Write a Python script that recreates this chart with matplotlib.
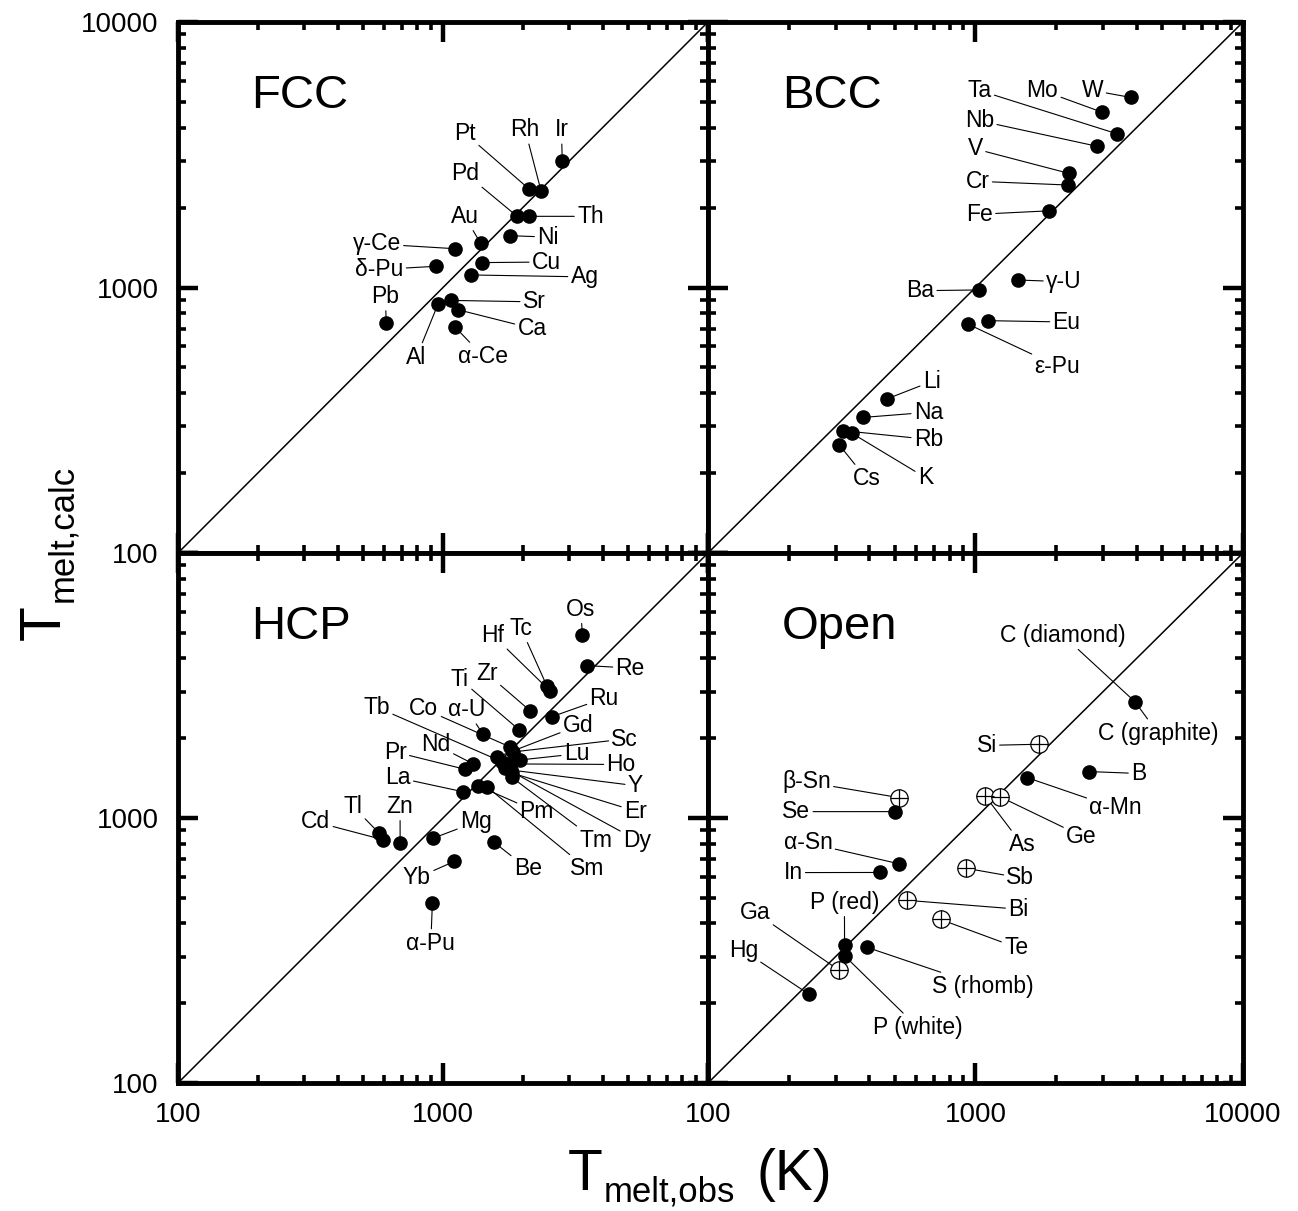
import matplotlib
matplotlib.use('Agg')
import matplotlib.pyplot as plt
from matplotlib import font_manager as fm
from matplotlib.ticker import FixedLocator, FuncFormatter, NullFormatter

FONT = 'Liberation Sans'
avail = {f.name for f in fm.fontManager.ttflist}
NARROW = 'Liberation Sans Narrow' if 'Liberation Sans Narrow' in avail else FONT
SUBSIZE = 31 if NARROW != FONT else 25
plt.rcParams['font.family'] = [FONT, 'DejaVu Sans']

# ---------------- data: FCC ----------------
fcc_names = ['Pt', 'Rh', 'Ir', 'Pd', 'Th', 'Ni', 'Au', 'γ-Ce', 'δ-Pu', 'Cu', 'Ag',
             'Pb', 'Sr', 'Ca', 'Al', 'α-Ce']
fcc_obs = [2118, 2344, 2818, 1905, 2118, 1792, 1387, 1109, 944, 1409, 1273,
           611, 1076, 1143, 958, 1109]
fcc_calc = [2344, 2312, 3006, 1854, 1854, 1567, 1466, 1400, 1202, 1241, 1115,
            736, 894, 824, 867, 711]
fcc_lab_x = [0.542, 0.655, 0.7235, 0.542, 0.778, 0.698, 0.541, 0.375, 0.380, 0.695, 0.767,
             0.391, 0.672, 0.668, 0.450, 0.576]
fcc_lab_y = [0.790, 0.797, 0.797, 0.715, 0.634, 0.595, 0.634, 0.582, 0.534, 0.548, 0.520,
             0.483, 0.473, 0.423, 0.369, 0.370]

# ---------------- data: BCC ----------------
bcc_names = ['W', 'Mo', 'Ta', 'Nb', 'V', 'Cr', 'Fe', 'Ba', 'γ-U', 'Eu', 'ε-Pu',
             'Li', 'Na', 'Rb', 'K', 'Cs']
bcc_obs = [3800, 2979, 3394, 2845, 2239, 2218, 1875, 1029, 1439, 1117, 937,
           465, 379, 319, 344, 309]
bcc_calc = [5200, 4571, 3788, 3404, 2689, 2432, 1944, 979, 1067, 750, 728,
            380, 324, 289, 283, 256]
bcc_lab_x = [0.719, 0.625, 0.5076, 0.5076, 0.4997, 0.504, 0.5076, 0.3966, 0.665, 0.670, 0.653,
             0.418, 0.412, 0.412, 0.4065, 0.296]
bcc_lab_y = [0.871, 0.871, 0.871, 0.814, 0.761, 0.700, 0.638, 0.494, 0.511, 0.435, 0.352,
             0.323, 0.265, 0.214, 0.142, 0.140]

# ---------------- data: HCP ----------------
hcp_names = ['Os', 'Re', 'Tc', 'Hf', 'Zr', 'Ru', 'Ti', 'α-U', 'Co', 'Gd', 'Tb', 'Sc',
             'Lu', 'Ho', 'Dy', 'Y', 'Er', 'Tm', 'Nd', 'Pr', 'La', 'Pm', 'Sm',
             'Tl', 'Cd', 'Zn', 'Mg', 'Be', 'Yb', 'α-Pu']
hcp_obs = [3357, 3494, 2467, 2535, 2130, 2570, 1941, 1413, 1790, 1600, 1665, 1836,
           1953, 1758, 1714, 1806, 1820, 1816, 1301, 1211, 1192, 1359, 1462,
           572, 594, 689, 916, 1556, 1104, 912]
hcp_calc = [4898, 3758, 3148, 3016, 2541, 2410, 2148, 2075, 1854, 1698, 1632, 1775,
            1656, 1600, 1544, 1517, 1479, 1425, 1600, 1527, 1256, 1321, 1313,
            880, 828, 808, 838, 811, 686, 479]
hcp_lab_x = [0.760, 0.853, 0.647, 0.594, 0.583, 0.804, 0.532, 0.545, 0.464, 0.755, 0.375, 0.843,
             0.752, 0.836, 0.866, 0.863, 0.863, 0.788, 0.487, 0.410, 0.415, 0.677, 0.772,
             0.330, 0.260, 0.419, 0.562, 0.660, 0.451, 0.477]
hcp_lab_y = [0.894, 0.783, 0.858, 0.845, 0.7725, 0.726, 0.762, 0.7045, 0.706, 0.674, 0.709, 0.649,
             0.621, 0.601, 0.458, 0.561, 0.513, 0.458, 0.638, 0.6245, 0.576, 0.512, 0.404,
             0.522, 0.4925, 0.522, 0.4925, 0.404, 0.387, 0.264]

# ---------------- data: Open ----------------
open_names = ['C (graphite)', 'Si', 'B', 'α-Mn', 'As', 'Ge', 'β-Sn', 'Se', 'α-Sn', 'In',
              'Sb', 'Bi', 'Te', 'P (red)', 'P (white)', 'S (rhomb)', 'Ga', 'Hg']
open_obs = [3951, 1726, 2661, 1563, 1085, 1230, 517, 499, 517, 439,
            923, 555, 741, 324, 324, 393, 308, 239]
open_calc = [2742, 1898, 1497, 1419, 1215, 1205, 1194, 1057, 672, 623,
             646, 489, 414, 332, 302, 325, 267, 216]
open_kind = ['dot', 'cross', 'dot', 'dot', 'cross', 'cross', 'cross', 'dot', 'dot', 'dot',
             'cross', 'cross', 'cross', 'dot', 'dot', 'dot', 'cross', 'dot']
open_lab_x = [0.841, 0.521, 0.805, 0.762, 0.587, 0.698, 0.184, 0.165, 0.187, 0.159,
              0.584, 0.580, 0.576, 0.255, 0.392, 0.514, 0.088, 0.066]
open_lab_y = [0.660, 0.637, 0.584, 0.519, 0.450, 0.466, 0.568, 0.512, 0.453, 0.397,
              0.387, 0.328, 0.256, 0.341, 0.105, 0.182, 0.322, 0.250]
# extra label pointing at an existing point: (text, point index, x, y)
open_extra = [('C (diamond)', 0, 0.663, 0.845)]

panel_titles = ['FCC', 'BCC', 'HCP', 'Open']
ticks_major = [100, 1000, 10000]
ticks_minor = [v * m for v in (100, 1000) for m in range(2, 10)]

W, H = 1298, 1211
fig = plt.figure(figsize=(W / 100, H / 100), dpi=100)
ax_fcc = fig.add_axes([178 / W, 1 - 553 / H, 530 / W, 531 / H])
ax_bcc = fig.add_axes([708 / W, 1 - 553 / H, 535 / W, 531 / H])
ax_hcp = fig.add_axes([178 / W, 1 - 1083 / H, 530 / W, 530 / H])
ax_open = fig.add_axes([708 / W, 1 - 1083 / H, 535 / W, 530 / H])
axes = [ax_fcc, ax_bcc, ax_hcp, ax_open]

LABEL_FS = 16.5


def make_fmt(hide):
    def f(v, pos):
        iv = int(round(v))
        if iv in hide:
            return ''
        return str(iv)
    return FuncFormatter(f)


def setup(ax, title, xlab, ylab, xhide=(), yhide=()):
    ax.set_xscale('log')
    ax.set_yscale('log')
    ax.set_xlim(100, 10000)
    ax.set_ylim(100, 10000)
    for a in (ax.xaxis, ax.yaxis):
        a.set_major_locator(FixedLocator(ticks_major))
        a.set_minor_locator(FixedLocator(ticks_minor))
        a.set_minor_formatter(NullFormatter())
    ax.xaxis.set_major_formatter(make_fmt(xhide))
    ax.yaxis.set_major_formatter(make_fmt(yhide))
    ax.tick_params(which='both', direction='in', top=True, right=True,
                   labelsize=20, pad=14,
                   labelbottom=xlab, labelleft=ylab)
    ax.tick_params(which='major', length=14.5, width=3.2)
    ax.tick_params(which='minor', length=6, width=2.6)
    for s in ax.spines.values():
        s.set_linewidth(3.5)
    ax.plot([100, 10000], [100, 10000], color='black', lw=1.1, zorder=1)
    ax.text(0.138, 0.86, title, transform=ax.transAxes, fontsize=34,
            ha='left', va='center')


setup(ax_fcc, panel_titles[0], False, True)
setup(ax_bcc, panel_titles[1], False, False)
setup(ax_hcp, panel_titles[2], True, True, xhide=(10000,), yhide=(10000,))
setup(ax_open, panel_titles[3], True, False)


def annotate(ax, name, x, y, fx, fy):
    ax.annotate(name, xy=(x, y), xycoords='data', xytext=(fx, fy),
                textcoords='axes fraction', ha='center', va='center',
                fontsize=LABEL_FS, zorder=3,
                arrowprops=dict(arrowstyle='-', lw=0.8, color='black',
                                shrinkA=0, shrinkB=0))


def draw_panel(ax, names, obs, calc, lx, ly, kinds=None):
    if kinds is None:
        kinds = ['dot'] * len(names)
    for n, x, y, fx, fy, k in zip(names, obs, calc, lx, ly, kinds):
        annotate(ax, n, x, y, fx, fy)
        if k == 'dot':
            ax.plot([x], [y], 'o', color='black', ms=9.5, zorder=5)
        else:
            ax.plot([x], [y], 'o', mfc='white', mec='black', mew=0.9, ms=12.5, zorder=5)
            ax.plot([x], [y], '+', color='black', mew=0.9, ms=12.5, zorder=6)


draw_panel(ax_fcc, fcc_names, fcc_obs, fcc_calc, fcc_lab_x, fcc_lab_y)
draw_panel(ax_bcc, bcc_names, bcc_obs, bcc_calc, bcc_lab_x, bcc_lab_y)
draw_panel(ax_hcp, hcp_names, hcp_obs, hcp_calc, hcp_lab_x, hcp_lab_y)
draw_panel(ax_open, open_names, open_obs, open_calc, open_lab_x, open_lab_y, open_kind)
for txt, idx, fx, fy in open_extra:
    annotate(ax_open, txt, open_obs[idx], open_calc[idx], fx, fy)

# axis titles
fig.text(568 / W, 1 - 1190 / H, 'T', fontsize=41, ha='left', va='baseline')
fig.text(604 / W, 1 - 1202 / H, 'melt,obs', fontsize=SUBSIZE, family=NARROW,
         ha='left', va='baseline')
fig.text(757 / W, 1 - 1190 / H, '(K)', fontsize=41, ha='left', va='baseline')

fig.text(60 / W, 1 - 640 / H, 'T', fontsize=41, rotation=90, rotation_mode='anchor',
         ha='left', va='baseline')
fig.text(72 / W, 1 - 602 / H, 'melt,calc', fontsize=SUBSIZE, family=NARROW, rotation=90,
         rotation_mode='anchor', ha='left', va='baseline')

fig.savefig('out.png', dpi=100)
